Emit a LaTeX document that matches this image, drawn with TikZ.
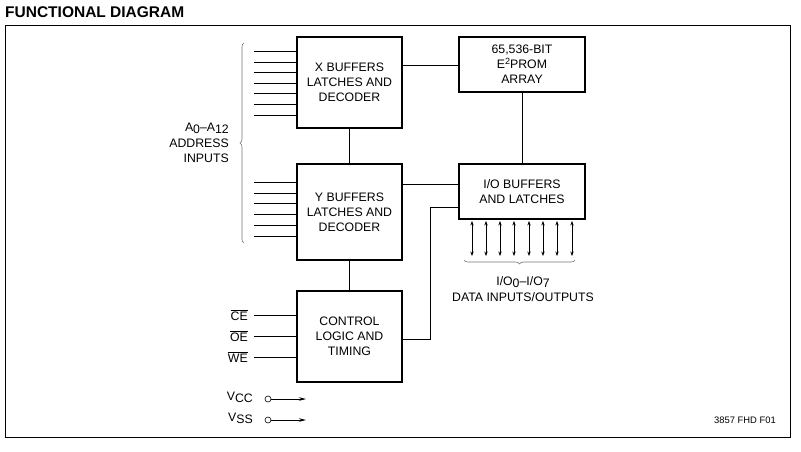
\documentclass[tikz,border=0pt]{standalone}
\usepackage{fontspec}
\setmainfont{Liberation Sans}
\usetikzlibrary{arrows.meta,decorations.pathreplacing}
\newcommand{\sbs}[1]{\raisebox{-2.2pt}{#1}}
\newcommand{\sps}[1]{\raisebox{4pt}{\small #1}}
\begin{document}
\begin{tikzpicture}[x=1pt,y=-1pt,
  blk/.style={draw, line width=1.5pt, align=center, font=\fontsize{12.3}{15}\selectfont, inner sep=0pt},
  wire/.style={line width=0.8pt},
  lbl/.style={font=\fontsize{12.3}{15.5}\selectfont, inner sep=0pt},
  dtip/.style={{Stealth[length=4.5pt,width=3.4pt]}-{Stealth[length=4.5pt,width=3.4pt]}, line width=0.8pt},
  brc/.style={decorate, decoration={brace, amplitude=4pt}, line width=0.6pt, draw=black!55}]
\useasboundingbox (0,0) rectangle (801,451);
\node[anchor=west, font=\bfseries\fontsize{15.5}{17}\selectfont, inner sep=0pt] (title) at (5,12) {FUNCTIONAL DIAGRAM};
\draw[line width=1pt] (5,25) rectangle (790,437);

\node[blk, minimum width=105pt, minimum height=91pt] (xb) at (349.5,82.5) {X BUFFERS\\LATCHES AND\\DECODER};
\node[blk, minimum width=105pt, minimum height=96pt] (yb) at (349.5,212) {Y BUFFERS\\LATCHES AND\\DECODER};
\node[blk, minimum width=105pt, minimum height=91pt] (ct) at (349.5,336.5) {CONTROL\\LOGIC AND\\TIMING};
\node[blk, minimum width=126pt, minimum height=55pt] (ee) at (522,64.5) {65,536-BIT\\E\sps{2}PROM\\ARRAY};
\node[blk, minimum width=126pt, minimum height=55pt] (io) at (522,191.5) {I/O BUFFERS\\AND LATCHES};

% connections
\draw[wire] (xb.east |- 0,65) -- (ee.west |- 0,65);
\draw[wire] (xb.south) -- (yb.north);
\draw[wire] (yb.south) -- (ct.north);
\draw[wire] (yb.east |- 0,184) -- (io.west |- 0,184);
\draw[wire] (ee.south) -- (io.north);
\draw[wire] (ct.east |- 0,339) -- (430,339) -- (430,207) -- (io.west |- 0,207);

% address lines
\foreach \y in {51,62,72,83,93,104,115}
  \draw[wire] (254,\y) -- (xb.west |- 0,\y);
\foreach \y in {182,193,203,214,225,236}
  \draw[wire] (254,\y) -- (yb.west |- 0,\y);
\draw[brc] (244,243) -- (244,43);
\node[lbl, anchor=east, align=right] (addr) at (229,143) {A\sbs{0}–A\sbs{12}\\ADDRESS\\INPUTS};

% data lines
\foreach \x in {472,486,500,514,529,543,557,572}
  \draw[dtip] (\x,221) -- (\x,256);
\draw[brc] (575,260) -- (464,260);
\node[lbl, align=center] (data) at (523,289) {I/O\sbs{0}–I/O\sbs{7}\\DATA INPUTS/OUTPUTS};

% control signals
\node[lbl, anchor=east] (ce) at (248,315) {$\overline{\mbox{CE}}$};
\node[lbl, anchor=east] (oe) at (248,336) {$\overline{\mbox{OE}}$};
\node[lbl, anchor=east] (we) at (248,357) {$\overline{\mbox{WE}}$};
\draw[wire] (254,315) -- (ct.west |- 0,315);
\draw[wire] (254,336) -- (ct.west |- 0,336);
\draw[wire] (254,357) -- (ct.west |- 0,357);

% power
\node[lbl, anchor=east] (vcc) at (253,397) {V\sbs{CC}};
\node[lbl, anchor=east] (vss) at (253,418) {V\sbs{SS}};
\node[draw, circle, minimum size=6pt, inner sep=0pt, line width=0.6pt] (cc) at (268,399) {};
\node[draw, circle, minimum size=6pt, inner sep=0pt, line width=0.6pt] (cs) at (268,420) {};
\coordinate (ccend) at (306,399);
\coordinate (csend) at (306,420);
\draw[wire, -{Stealth[length=7pt,width=3.5pt]}] (cc) -- (ccend);
\draw[wire, -{Stealth[length=7pt,width=3.5pt]}] (cs) -- (csend);

\node[font=\fontsize{9.4}{11}\selectfont, inner sep=0pt] (ref) at (745,420) {3857 FHD F01};
\end{tikzpicture}
\end{document}
